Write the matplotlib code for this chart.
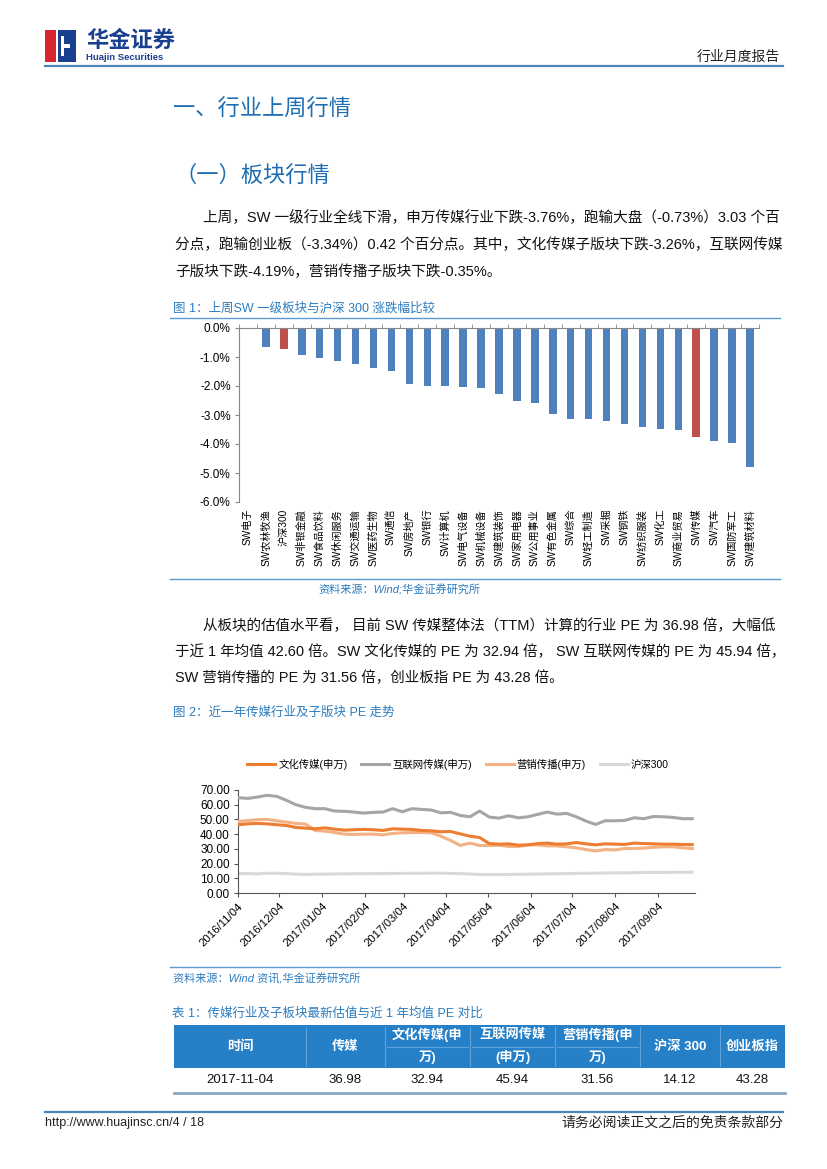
import matplotlib
matplotlib.use("Agg")
import matplotlib.pyplot as plt
import matplotlib.patches as mpatches
from matplotlib.lines import Line2D
from matplotlib.ticker import FuncFormatter, FixedLocator
import pandas as pd

plt.rcParams['font.family'] = ['Liberation Sans', 'Noto Sans CJK SC', 'DejaVu Sans']
plt.rcParams['axes.unicode_minus'] = False

# ---- data: figure 1 (weekly change, %) ----
sectors = ['SW电子', 'SW农林牧渔', '沪深300', 'SW非银金融', 'SW食品饮料', 'SW休闲服务',
           'SW交通运输', 'SW医药生物', 'SW通信', 'SW房地产', 'SW银行', 'SW计算机',
           'SW电气设备', 'SW机械设备', 'SW建筑装饰', 'SW家用电器', 'SW公用事业',
           'SW有色金属', 'SW综合', 'SW轻工制造', 'SW采掘', 'SW钢铁', 'SW纺织服装',
           'SW化工', 'SW商业贸易', 'SW传媒', 'SW汽车', 'SW国防军工', 'SW建筑材料']
changes = [-0.05, -0.67, -0.73, -0.93, -1.04, -1.15, -1.23, -1.38, -1.47, -1.92,
           -1.99, -2.00, -2.05, -2.06, -2.26, -2.51, -2.57, -2.95, -3.13, -3.14,
           -3.22, -3.31, -3.40, -3.49, -3.50, -3.76, -3.88, -3.95, -4.81]
highlight = ['沪深300', 'SW传媒']

# ---- data: figure 2 (weekly PE) ----
week_start = '2016-11-04'
n_weeks = 48
pe_culture = [46.4, 47.0, 47.3, 47.0, 46.4, 45.9, 44.5, 44.1, 43.6, 44.3,
              43.4, 42.7, 43.0, 43.2, 43.0, 42.5, 43.6, 43.4, 43.2, 42.5,
              42.3, 41.6, 41.8, 40.2, 38.6, 37.7, 33.6, 33.2, 33.4, 32.5,
              32.7, 33.6, 33.9, 33.2, 33.4, 34.3, 33.4, 32.7, 33.4, 33.2,
              33.0, 33.9, 33.6, 33.4, 33.2, 33.2, 33.0, 32.9]
pe_internet = [64.8, 64.3, 65.2, 66.4, 65.7, 63.0, 60.0, 58.2, 57.3, 57.3,
               55.7, 55.5, 55.0, 54.3, 54.8, 55.0, 57.3, 55.2, 57.3, 56.8,
               56.4, 54.5, 54.8, 52.7, 51.8, 55.7, 51.6, 50.9, 52.5, 51.1,
               51.8, 53.4, 55.0, 53.6, 54.1, 51.8, 48.9, 46.6, 49.1, 49.1,
               49.3, 51.1, 50.5, 52.0, 51.8, 51.4, 50.5, 50.5]
pe_marketing = [48.6, 49.3, 49.8, 50.0, 49.1, 48.2, 47.3, 46.8, 42.5, 42.0,
                41.1, 40.0, 39.8, 40.0, 40.0, 39.5, 40.5, 40.9, 41.1, 41.1,
                40.9, 38.6, 35.7, 32.3, 33.9, 32.3, 32.3, 32.5, 31.6, 31.6,
                32.7, 32.7, 32.0, 32.0, 31.4, 30.7, 29.5, 28.6, 29.5, 29.3,
                30.2, 30.2, 30.5, 31.1, 31.4, 31.4, 30.7, 30.2]
pe_hs300 = [13.2, 13.2, 13.0, 13.4, 13.4, 13.2, 12.8, 12.6, 12.8, 12.8,
            13.0, 13.0, 13.1, 13.1, 13.2, 13.2, 13.3, 13.3, 13.4, 13.4,
            13.5, 13.5, 13.3, 13.2, 12.9, 12.6, 12.5, 12.5, 12.6, 12.7,
            12.8, 12.9, 13.0, 13.1, 13.2, 13.3, 13.4, 13.5, 13.6, 13.7,
            13.7, 13.8, 13.9, 14.0, 14.0, 14.1, 14.1, 14.1]
series_names = ['文化传媒(申万)', '互联网传媒(申万)', '营销传播(申万)', '沪深300']
month_ticks = ['2016/11/04', '2016/12/04', '2017/01/04', '2017/02/04', '2017/03/04',
               '2017/04/04', '2017/05/04', '2017/06/04', '2017/07/04', '2017/08/04',
               '2017/09/04']

# ---- data: table 1 ----
table_header = ['时间', '传媒', '文化传媒(申\n万)', '互联网传媒\n(申万)', '营销传播(申\n万)',
                '沪深 300', '创业板指']
table_row = ['2017-11-04', '36.98', '32.94', '45.94', '31.56', '14.12', '43.28']

W, H = 827, 1169
fig = plt.figure(figsize=(W / 100, H / 100), dpi=100)
fig.patch.set_facecolor('white')


def fx(x):
    return x / W


def fy(y):
    return 1 - y / H


def txt(x, y, s, **kw):
    kw.setdefault('va', 'center')
    fig.text(fx(x), fy(y), s, **kw)


def hline(x0, x1, y, color, lw=1.0):
    fig.add_artist(Line2D([fx(x0), fx(x1)], [fy(y), fy(y)], transform=fig.transFigure,
                          color=color, lw=lw))


def rect(x0, y0, x1, y1, color):
    fig.add_artist(mpatches.Rectangle((fx(x0), fy(y1)), fx(x1) - fx(x0), fy(y0) - fy(y1),
                                      transform=fig.transFigure, facecolor=color,
                                      edgecolor='none'))


blue_title = '#1f6db3'
blue_cap = '#2b7cc0'
line_blue = '#4a86b8'

# ---- page header ----
rect(45, 30, 56, 62, '#d7262e')
rect(58, 30, 76, 62, '#1b3f8f')
rect(61, 36, 64, 56, 'white')
rect(64, 44, 70, 48, 'white')
txt(86, 41, '华金证券', fontsize=16, fontweight='bold', color='#1b3f8f')
txt(86, 57, 'Huajin Securities', fontsize=6.8, fontweight='bold', color='#1b3f8f')
txt(780, 57, '行业月度报告', fontsize=10, ha='right', color='#222222')
hline(45, 783, 66, line_blue, 1.6)

# ---- headings and paragraphs ----
txt(173, 110, '一、行业上周行情', fontsize=16, color=blue_title)
txt(175, 176, '（一）板块行情', fontsize=16, color=blue_title)

para1 = [(203, 218, '上周，SW 一级行业全线下滑，申万传媒行业下跌-3.76%，跑输大盘（-0.73%）3.03 个百'),
         (175, 245, '分点，跑输创业板（-3.34%）0.42 个百分点。其中，文化传媒子版块下跌-3.26%，互联网传媒'),
         (175, 272, '子版块下跌-4.19%，营销传播子版块下跌-0.35%。')]
for x, y, s in para1:
    txt(x, y, s, fontsize=10.55, color='#111111')

para2 = [(203, 626, '从板块的估值水平看， 目前 SW 传媒整体法（TTM）计算的行业 PE 为 36.98 倍，大幅低'),
         (175, 652, '于近 1 年均值 42.60 倍。SW 文化传媒的 PE 为 32.94 倍， SW 互联网传媒的 PE 为 45.94 倍，'),
         (175, 678, 'SW 营销传播的 PE 为 31.56 倍，创业板指 PE 为 43.28 倍。')]
for x, y, s in para2:
    txt(x, y, s, fontsize=10.45, color='#111111')

# ---- figure 1 ----
txt(173, 308, '图 1：上周SW 一级板块与沪深 300 涨跌幅比较', fontsize=9, color=blue_cap)
hline(170, 780, 318, '#5b9bd5', 1.0)

ax1 = fig.add_axes([fx(239), fy(502), fx(759) - fx(239), (502 - 328) / H])
xs = range(len(sectors))
colors = ['#c0504d' if s in highlight else '#4f81bd' for s in sectors]
ax1.bar(xs, changes, width=0.42, color=colors)
ax1.set_ylim(-6, 0)
ax1.set_xlim(-0.5, len(sectors) - 0.5)
ax1.set_yticks([0, -1, -2, -3, -4, -5, -6])
ax1.yaxis.set_major_formatter(FuncFormatter(lambda v, p: '%.1f%%' % v))
ax1.tick_params(axis='y', labelsize=8.5, length=3, color='#888888', pad=3)
ax1.set_xticks(list(xs))
ax1.set_xticklabels(sectors, rotation=90, fontsize=7.3, va='top', ha='center')
ax1.tick_params(axis='x', which='major', length=0, pad=5)
ax1.xaxis.set_minor_locator(FixedLocator([i - 0.5 for i in range(len(sectors) + 1)]))
ax1.tick_params(axis='x', which='minor', top=True, bottom=False, direction='out',
                length=3, color='#888888')
for side in ['right', 'bottom']:
    ax1.spines[side].set_visible(False)
ax1.spines['left'].set_color('#888888')
ax1.spines['top'].set_color('#888888')

hline(170, 780, 579, '#5b9bd5', 1.0)
txt(318, 590, '资料来源：Wind;华金证券研究所', fontsize=8, color=blue_cap, style='italic')

# ---- figure 2 ----
txt(173, 713, '图 2：近一年传媒行业及子版块 PE 走势', fontsize=9, color=blue_cap)

dates = pd.date_range(week_start, periods=n_weeks, freq='7D')
ax2 = fig.add_axes([fx(238), fy(893), fx(695) - fx(238), (893 - 790) / H])
l4, = ax2.plot(dates, pe_hs300, color='#d9d9d9', lw=2.2, zorder=2)
l2, = ax2.plot(dates, pe_internet, color='#a5a5a5', lw=2.2, zorder=3)
l3, = ax2.plot(dates, pe_marketing, color='#f4b183', lw=2.2, zorder=4)
l1, = ax2.plot(dates, pe_culture, color='#ed7d31', lw=2.2, zorder=5)
ax2.set_ylim(0, 70)
ax2.set_yticks(range(0, 71, 10))
ax2.yaxis.set_major_formatter(FuncFormatter(lambda v, p: '%.2f' % v))
ax2.set_xlim(dates[0], pd.Timestamp('2017-10-01'))
tick_dates = pd.to_datetime(month_ticks, format='%Y/%m/%d')
ax2.set_xticks(tick_dates)
ax2.set_xticklabels(month_ticks, rotation=45, ha='right', rotation_mode='anchor', fontsize=8.2)
ax2.tick_params(axis='y', labelsize=8.5, length=3, color='#555555', pad=3)
ax2.tick_params(axis='x', length=3, color='#555555', pad=3)
for side in ['right', 'top']:
    ax2.spines[side].set_visible(False)
ax2.spines['left'].set_color('#555555')
ax2.spines['bottom'].set_color('#555555')
fig.legend([l1, l2, l3, l4], series_names, loc='center', ncol=4, frameon=False,
           fontsize=7.5, handlelength=2.7, columnspacing=1.3, handletextpad=0.3,
           bbox_to_anchor=(fx(458), fy(764)), bbox_transform=fig.transFigure)

hline(170, 780, 967, '#5b9bd5', 1.0)
txt(173, 979, '资料来源：Wind 资讯,华金证券研究所', fontsize=8, color=blue_cap, style='italic')

# ---- table 1 ----
txt(172, 1014, '表 1：传媒行业及子板块最新估值与近 1 年均值 PE 对比', fontsize=9, color=blue_cap)
col_edges = [174, 306, 385, 470, 555, 640, 720, 785]
rect(col_edges[0], 1025, col_edges[-1], 1068, '#2680c8')
for xe in col_edges[1:-1]:
    fig.add_artist(Line2D([fx(xe), fx(xe)], [fy(1027), fy(1066)], transform=fig.transFigure,
                          color='#5fa3dc', lw=0.8))
for i in range(2, 5):
    hline(col_edges[i] + 2, col_edges[i + 1] - 2, 1046.5, '#5fa3dc', 0.8)
for i, lab in enumerate(table_header):
    cx = (col_edges[i] + col_edges[i + 1]) / 2
    if '\n' in lab:
        top, bot = lab.split('\n')
        txt(cx, 1035, top, fontsize=9.5, fontweight='bold', color='white', ha='center')
        txt(cx, 1057, bot, fontsize=9.5, fontweight='bold', color='white', ha='center')
    else:
        txt(cx, 1047, lab, fontsize=9.5, fontweight='bold', color='white', ha='center')
for i, val in enumerate(table_row):
    cx = (col_edges[i] + col_edges[i + 1]) / 2
    txt(cx, 1080, val, fontsize=9.5, color='#111111', ha='center')
hline(col_edges[0], col_edges[-1], 1093, '#8aa6c1', 2.0)

# ---- footer ----
hline(45, 783, 1112, line_blue, 1.6)
txt(45, 1123, 'http://www.huajinsc.cn/4 / 18', fontsize=9, color='#222222')
txt(783, 1123, '请务必阅读正文之后的免责条款部分', fontsize=10, ha='right', color='#222222')

fig.savefig('out.png', dpi=100)
